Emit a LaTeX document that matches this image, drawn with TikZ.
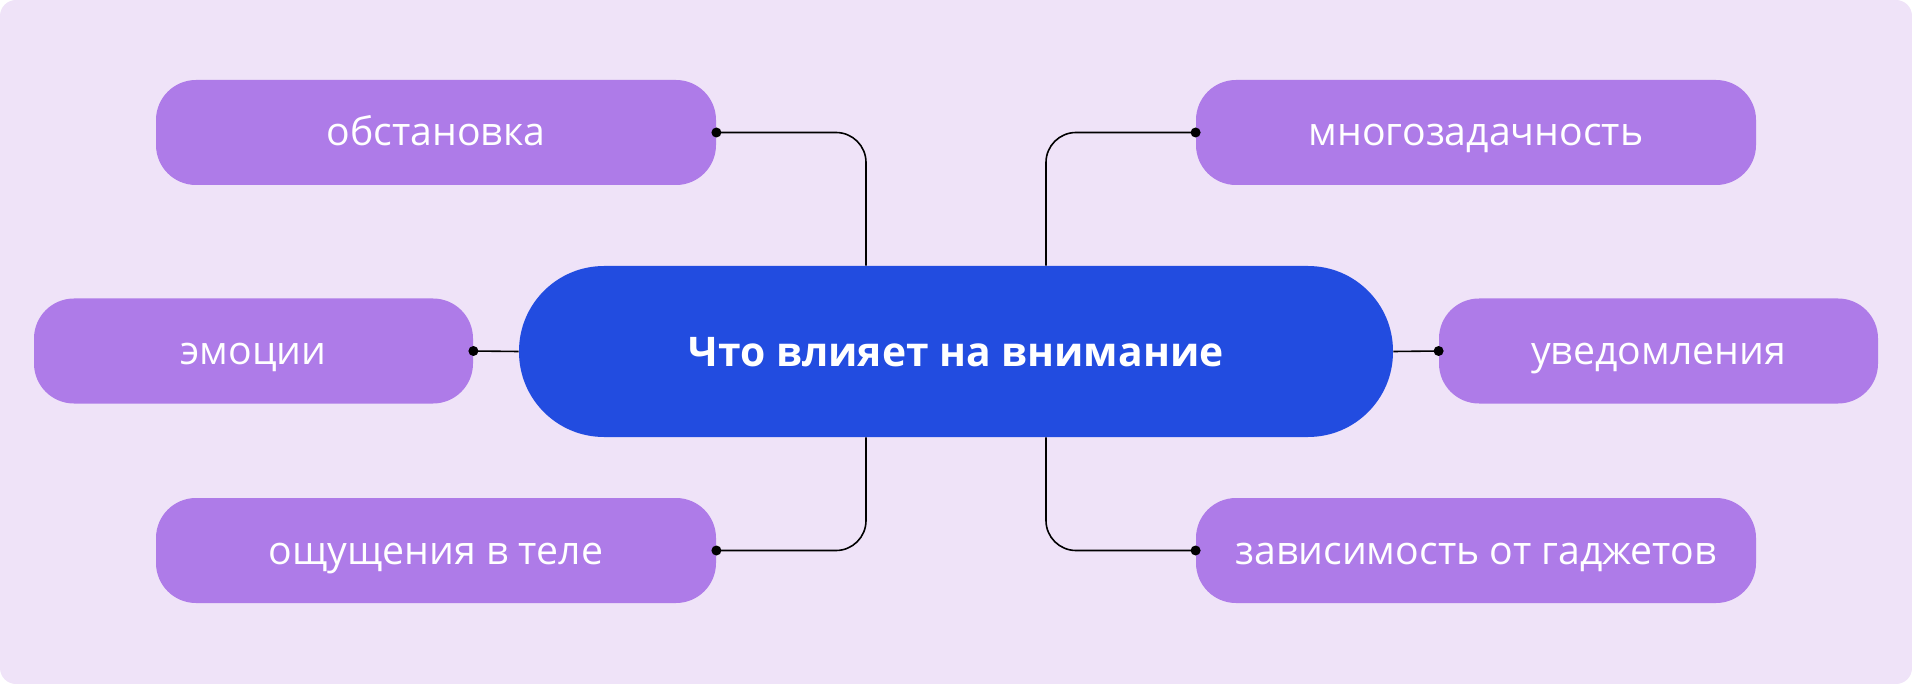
\documentclass[tikz,border=0pt]{standalone}
\usepackage{fontspec}
\setmainfont{Open Sans}
\definecolor{bgpurple}{HTML}{EFE3F8}
\definecolor{boxpurple}{HTML}{AE7BE8}
\definecolor{mainblue}{HTML}{224CE0}
\begin{document}
\begin{tikzpicture}[x=0.5pt, y=-0.5pt,
        factor/.style={rectangle, rounded corners=20pt, fill=boxpurple, text=white, inner sep=0pt,
            minimum height=52.5pt, text height=13.5pt, text depth=0pt, font=\fontsize{19.6}{22}\selectfont},
        link/.style={draw=black, line width=0.8pt, rounded corners=15pt},
        dot/.style={circle, fill=black, inner sep=0pt, minimum size=5pt}]
        % Background card
        \fill[bgpurple, rounded corners=8pt] (0, 0) rectangle (1912, 684);
        \useasboundingbox (0, 0) rectangle (1912, 684);
        
        % Central topic
        \node[rectangle, rounded corners=42.5pt, fill=mainblue, text=white, inner sep=0pt,
            minimum width=437pt, minimum height=85.5pt, text height=15pt, text depth=0pt,
            font=\bfseries\fontsize{20.4}{24}\selectfont] (focus) at (956, 351.5) {Что влияет на внимание};
        
        % Factor boxes
        \foreach \name/\x/\y/\w/\txt in {env/436/132.5/280/обстановка, emo/253.5/351/219.5/эмоции, body/436/550.5/280/ощущения в теле, multi/1476/132.5/280/многозадачность, notif/1658.5/351/219.5/уведомления, gadget/1476/550.5/280/зависимость от гаджетов} {
            \node[factor, minimum width=\w pt] (\name) at (\x, \y) {\txt};
 }
        
        % Connect the left boxes to the central topic
        \draw[link] (env.east) -| ([xshift=-45pt]focus.north);
        \draw[link] (emo.east) -- (focus.west);
        \draw[link] (body.east) -| ([xshift=-45pt]focus.south);
        
        % Connect the right boxes to the central topic
        \draw[link] (multi.west) -| ([xshift=45pt]focus.north);
        \draw[link] (notif.west) -- (focus.east);
        \draw[link] (gadget.west) -| ([xshift=45pt]focus.south);
        
        % Dots at the box ends
        \foreach \name/\side in {env/east, emo/east, body/east, multi/west, notif/west, gadget/west} {
            \node[dot] (\name dot) at (\name.\side) {};
 }
    \end{tikzpicture}
\end{document}
